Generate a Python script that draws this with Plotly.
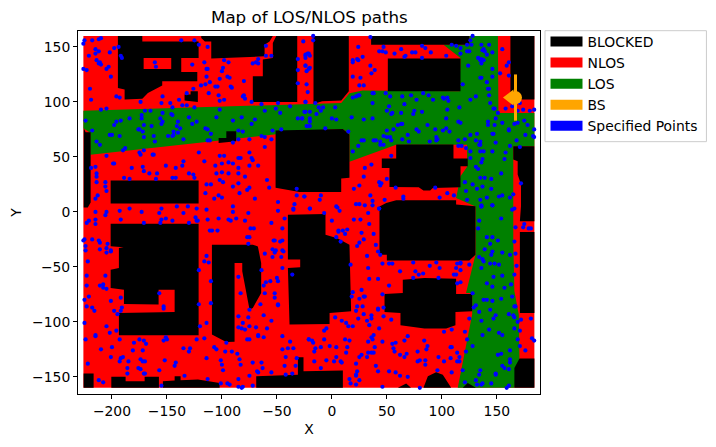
import plotly.graph_objects as go

TITLE = "Map of LOS/NLOS paths"
LEGEND_NAMES = ["BLOCKED", "NLOS", "LOS", "BS", "Specified Points"]
LEGEND_COLORS = ["black", "red", "green", "orange", "blue"]
X_TICKS = [-200, -150, -100, -50, 0, 50, 100, 150]
Y_TICKS = [-150, -100, -50, 0, 50, 100, 150]
BS_XY = (167, 104)

NLOS_AREA = [(-226, -160), (184.2, -160), (184.2, 160), (-226, 160)]

LOS_AREA = [(-226, 92), (8.5, 99), (16, 108), (28, 110.3), (116, 109.7), (117, 140), (101.5, 152), (125, 152),
            (125, 160), (151, 160), (151.5, 90), (184.2, 90), (184.2, 59.7), (165, 59.7), (165, 6.6), (165, -27),
            (166, -72), (170, -93.4), (170.6, -133), (166, -160), (114.5, -160), (127.6, -93.4), (127.6, -73.7),
            (122, -73.7), (130.6, -38.9), (130.6, 5), (113, 12.7), (117, 32.4), (123, 41), (123, 61), (58.5, 61),
            (16, 45.5), (16, 70.3), (10, 75.4), (-20, 74), (-219.7, 52), (-219.7, 72), (-226, 76)]

BLOCKED_AREAS = [
    [(-194.6, 160), (-172.4, 160), (-172.4, 155), (-121.2, 155), (-121.2, 140), (-194.6, 140)],
    [(-194.6, 140), (-171.2, 140), (-171.2, 130), (-194.6, 130)],
    [(-146.1, 140), (-137, 140), (-137, 130), (-146.1, 130)],
    [(-194.6, 130), (-137, 130), (-137, 127.3), (-122.4, 127.3), (-122.4, 118.8), (-154.3, 118.8), (-154.3, 114.9),
     (-167.3, 108.2), (-172.4, 103), (-188.5, 102.1), (-188.5, 111.2), (-194.6, 112.7)],
    [(-128.5, 109.7), (-121.9, 109.7), (-121.9, 100), (-134, 101.2), (-134, 106.7), (-128.5, 106.7)],
    [(-118.8, 160), (-53.7, 160), (-56.7, 155), (-61.2, 152), (-61.2, 141.5), (-109.7, 139.4), (-109.7, 155),
     (-115.5, 155), (-118.8, 158.2)],
    [(-50.6, 160), (-31.5, 160), (-31.5, 100), (-71.9, 100), (-71.9, 123.3), (-62.8, 123.3), (-62.8, 138.5),
     (-53.7, 140), (-53.7, 153.6)],
    [(-16.7, 160), (15.4, 160), (15.4, 109.7), (8.5, 101.2), (-8.8, 100.6), (-16.7, 98.2)],
    [(35.7, 160), (125, 160), (125, 152), (35.7, 152)],
    [(50.9, 139.4), (117, 139.4), (117, 109.7), (50.9, 109.7)],
    [(162.4, 160), (184.2, 160), (184.2, 102.1), (162.4, 102.1)],
    [(-225.7, 76.4), (-224, 72.4), (-219.4, 72.4), (-219.4, 8.5), (-222, 3.9), (-225.7, 3.9)],
    [(-201.2, 28.5), (-121.2, 28.5), (-121.2, 7.6), (-201.2, 7.6)],
    [(-103, 67.3), (-96, 67.3), (-96, 73.3), (-87, 73.3), (-87, 64.3), (-103, 62.7)],
    [(-51.2, 74), (10, 75.4), (16, 70.3), (16, 31), (8.5, 30.3), (8.5, 18), (-29.4, 18), (-51.2, 22)],
    [(58.5, 61.2), (110.6, 61.2), (110.6, 48.5), (123.6, 48.5), (123.6, 41.5), (117, 41.5), (117, 22.4), (91.8, 21.8),
     (89.4, 19.4), (83.3, 19.4), (79, 22.4), (52.4, 22.7), (52.4, 40), (45.4, 40), (45.4, 48.5), (58.5, 48.5)],
    [(58.5, 10.6), (113, 10.6), (113, 6.7), (130.6, 5.2), (130.6, -38.9), (125, -44.3), (50, -44.3), (50, -38.9),
     (43.3, -38.9), (43.3, 5), (49.4, 8.2)],
    [(-201.2, -10.7), (-121.2, -10.7), (-121.2, -112.2), (-193.7, -112.2), (-193.7, -92), (-143, -91), (-143, -70.7),
     (-157.6, -70.7), (-157.6, -84.3), (-189.1, -83.7), (-189.1, -70.7), (-201.2, -69.2), (-201.2, -52.5),
     (-193.7, -51), (-193.7, -32.8), (-189.4, -32.2), (-201.2, -31.3)],
    [(-109.1, -29.8), (-71.9, -29.8), (-67.3, -31.5), (-64.3, -46.4), (-64.3, -73.7), (-71.9, -87.3), (-74.9, -88.8),
     (-81.5, -54), (-81.5, -46.4), (-88.5, -46.4), (-88.5, -118), (-96.1, -118.2), (-109.1, -111.6)],
    [(-40, -2.5), (-5.8, -1.9), (-5.8, -20.7), (5, -24), (16, -29.8), (17.5, -90.4), (-2.1, -92), (-2.1, -102),
     (-38.5, -102.5), (-40, -64.6), (-40, -51), (-28.8, -50.4), (-28.8, -43.4), (-40, -43.4)],
    [(47.9, -74.6), (64.5, -73.7), (64.5, -61.6), (84.2, -60), (113, -60.7), (113, -74.6), (127.6, -74.6),
     (127.6, -90.4), (112.4, -91), (112.4, -103.1), (104, -106.1), (84.2, -106.1), (62.4, -103.1), (62.4, -92),
     (47.9, -91)],
    [(170.6, -133.4), (184.2, -133.4), (184.2, -160), (166, -160), (166, -141.9)],
    [(165, 59.7), (184.2, 59.7), (184.2, -8.6), (171, -8.6), (172, 5.2), (172, 24.8), (169, 34), (169, 46), (165, 47.6)],
    [(171, -18.2), (184.2, -18.2), (184.2, -92), (171, -92)],
    [(-225.8, -147), (-216.7, -147), (-216.7, -160), (-225.8, -160)],
    [(-200.6, -150), (-187.6, -150), (-187.6, -154), (-170.3, -154), (-170.3, -150), (-157.3, -150), (-157.3, -160),
     (-200.6, -160)],
    [(-153.7, -160), (-153.7, -154), (-143, -153.4), (-143, -149.4), (-137.6, -149.4), (-137.6, -153.1),
     (-121.8, -152.5), (-102.1, -155.5), (-102.1, -160)],
    [(-68.8, -160), (-68.8, -149.4), (-30.9, -148), (-30.9, -132.2), (-25.8, -132.2), (-25.8, -144.8), (10, -144.3),
     (10, -160)],
    [(60, -160), (67.6, -156.1), (72, -160)],
    [(83.3, -160), (87.3, -149.4), (94.8, -145.8), (100.9, -148), (108.5, -160)],
    [(119, -160), (123.6, -155.5), (131, -160)],
]

POINTS_NW = [
    (-225,156),(-226,153),(-218,156),(-212,157),(-210,158),(-215,148),(-212,146),(-221,142),(-215,144),(-214,138),
    (-211,136),(-210,134),(-212,135),(-226,130),(-223,129),(-205,130),(-203,132),(-201,123),(-198,149),(-194,150),
    (-192,142),(-191,140),(-202,145),(-137,156),(-125,156),(-121,152),(-113,150),(-161,136),(-160,132),(-127,134),
    (-116,136),(-98,138),(-94,136),(-99,131),(-100,128),(-114,130),(-113,130),(-114,123),(-111,118),(-115,116),
    (-119,115),(-102,121),(-95,123),(-93,122),(-106,114),(-104,114),(-80,119),(-92,114),(-91,113),(-126,112),
    (-132,108),(-154,105),(-196,105),(-193,104),(-220,112),(-219,102),(-174,100),(-155,99),(-147,99),(-139,102),
    (-112,108),(-103,106),(-98,102),(-102,101),(-80,106),(-81,105),(-79,103),(-73,100),(-64,98),(-49,99),
    (-38,96),(-24,100),(-31,117),(-31,129),(-24,133),(-20,131),(-60,151),(-60,142),(-55,142),(-72,135),
    (-67,139),(-69,136),(-67,135),(-31,139),(-24,143),(-22,144),(-210,93),(-205,94),(-136,97),(-132,97),
    (-125,95),(-145,95),(-170,92),(-165,92),(-173,88),(-173,85),(-154,90),(-146,89),(-145,88),(-156,85),
    (-154,82),(-130,86),(-102,93),(-105,86),(-82,86),(-90,83),(-123,82),(-127,80),(-73,80),(-70,84),
    (-61,92),(-51,94),(-47,90),(-31,85),(-27,85),(-20,91),(-24,91),(-22,78),(-46,75),(-54,74),
    (-196,82),(-192,83),(-198,79),(-184,85),(-224,83),(-218,74),(-171,79),(-164,78),(-155,80),(-140,82),
    (-141,78),(-138,76),(-144,73),(-140,72),(-144,70),(-175,75),(-176,75),(-172,73),(-171,68),(-162,69),
    (-149,69),(-145,69),(-202,70),(-200,70),(-193,69),(-214,64),(-211,61),(-161,64),(-135,66),(-115,76),
    (-113,75),(-85,74),(-81,73),(-110,71),(-111,65),(-113,65),(-90,63),(-85,66),(-75,66),(-64,69),
    (-61,68),(-55,66),(-61,59),(-75,54),(-73,49),(-72,47),(-85,49),(-83,49),(-67,42),(-75,42),
    (-85,40),(-94,45),(-90,44),(-100,44),(-102,51),(-98,51),(-121,54),(-116,46),(-135,46),(-136,42),
    (-142,40),(-151,42),(-163,52),(-162,52),(-171,56),(-175,54),(-174,52),(-188,58),(-190,56),(-205,51),
    (-198,44),(-199,44),(-215,41),(-219,40),(-182,40),(-172,41),(-171,37),(-166,35),(-159,35),(-130,35),
    (-126,34),(-125,31),(-106,42),(-105,35),(-100,36),(-94,35),(-85,35),(-79,32),(-85,26),(-102,29),
    (-99,27),(-114,25),(-110,25),(-90,23),(-75,22),(-77,20),(-84,17),(-70,12),(-59,29),(-57,22),
    (-32,21),(-25,14),(-32,15),(-34,7),(-49,9),(-90,5),(-100,13),(-103,15),(-107,12),(-115,17),
    (-189,31),(-184,30),(-160,30),(-145,31),(-142,31),(-214,32),(-214,27),(-206,27),(-206,23),(-205,19),
    (-213,15),(-215,12),(-141,5),(-131,5),(-184,3),(-155,3),(-123,3),(-35,3),(-214,35),
]

POINTS_NE = [
    (-26,155),(-17,160),(-17,156),(-21,144),(-20,142),(-24,142),(-24,140),(-24,133),(-21,130),(-23,128),
    (-23,116),(-22,109),(-24,100),(-15,99),(-12,95),(-8,95),(-10,92),(-25,91),(3,95),(-14,89),
    (0,85),(4,84),(-27,85),(-20,85),(-20,82),(-23,78),(-20,78),(-6,76),(18,86),(15,73),
    (29,84),(37,85),(37,99),(52,96),(66,98),(77,102),(64,105),(72,106),(83,108),(88,106),
    (92,102),(101,104),(102,103),(105,104),(106,101),(116,95),(105,93),(104,85),(115,82),(117,81),
    (50,92),(55,90),(54,89),(63,90),(74,89),(75,92),(82,91),(50,74),(56,75),(60,79),
    (63,80),(64,80),(87,79),(77,75),(79,73),(94,75),(101,74),(104,76),(107,73),(47,69),
    (50,68),(53,68),(69,70),(64,66),(70,64),(54,65),(40,65),(38,65),(44,64),(44,61),
    (47,61),(27,65),(29,65),(24,60),(19,55),(54,51),(89,64),(95,68),(96,66),(95,65),
    (115,65),(121,66),(115,60),(118,60),(122,58),(126,70),(132,71),(131,65),(135,64),(135,61),
    (134,61),(126,55),(126,49),(135,55),(138,55),(146,55),(149,63),(146,71),(147,71),(162,60),
    (168,65),(171,59),(176,70),(183,69),(184,68),(184,75),(178,79),(175,83),(169,81),(166,80),
    (161,75),(161,74),(155,81),(148,79),(142,82),(142,79),(149,85),(151,90),(147,94),(148,94),
    (164,96),(158,94),(169,92),(174,93),(180,92),(184,93),(171,99),(144,99),(131,105),(126,102),
    (143,106),(142,112),(143,112),(141,118),(119,116),(146,123),(136,122),(135,122),(153,126),(161,124),
    (159,133),(161,136),(146,130),(124,133),(136,139),(135,138),(133,140),(136,135),(138,138),(141,143),
    (146,145),(155,148),(143,152),(136,152),(137,147),(138,148),(139,146),(127,152),(123,152),(123,146),
    (125,146),(117,149),(117,144),(113,151),(109,152),(104,142),(126,156),(128,160),(90,145),(85,149),
    (82,151),(82,140),(76,145),(73,145),(63,148),(67,142),(66,141),(57,144),(49,145),(46,146),
    (43,146),(47,150),(24,150),(28,141),(19,138),(19,136),(24,138),(23,139),(35,133),(39,129),
    (36,126),(19,123),(26,122),(29,115),(25,115),(19,104),(22,105),(24,106),(25,106),(37,108),
    (38,108),(49,108),(53,105),(35,159),
    (158,54),(157,48),(154,35),(137,48),(136,45),(131,41),(133,39),(135,31),(139,31),(145,30),
    (121,27),(128,25),(132,21),(137,23),(145,21),(122,19),(123,11),(135,11),(141,13),(152,14),
    (155,15),(162,13),(165,16),(172,26),(136,6),(136,5),(146,6),(166,3),(111,15),(105,17),
    (98,13),(94,22),(58,22),(50,30),(43,27),(45,26),(44,24),(29,32),(36,43),(30,40),
    (25,24),(20,21),(35,15),(37,10),(37,6),(30,6),(25,7),(22,7),(48,11),(65,14),
    (65,12),(-10,15),(-11,11),(-25,14),(4,5),(5,4),(-20,3),(43,3),
]

POINTS_SW = [
    (-215,0),(-205,0),(-206,-3),(-193,1),(-173,0),(-157,-1),(-135,-1),(-114,2),(-90,0),(-76,-1),
    (-49,1),(-35,2),(-124,-5),(-151,-6),(-155,-7),(-156,-10),(-145,-8),(-130,-10),(-123,-8),(-122,-8),
    (-113,-7),(-103,-6),(-94,-7),(-92,-8),(-87,-6),(-79,-8),(-55,-10),(-43,-6),(-192,-7),(-171,-10),
    (-221,-8),(-223,-10),(-215,-7),(-215,-11),(-45,-15),(-74,-15),(-71,-15),(-104,-17),(-111,-17),(-109,-17),
    (-77,-23),(-75,-23),(-225,-25),(-226,-26),(-218,-25),(-212,-26),(-211,-28),(-204,-29),(-224,-31),(-224,-35),
    (-211,-34),(-205,-33),(-205,-37),(-201,-35),(-201,-36),(-76,-29),(-53,-26),(-52,-26),(-45,-26),(-47,-27),
    (-54,-34),(-52,-37),(-51,-35),(-45,-35),(-44,-36),(-61,-38),(-54,-41),(-46,-41),(-114,-40),(-116,-45),
    (-112,-46),(-222,-45),(-121,-53),(-64,-53),(-45,-51),(-36,-57),(-223,-58),(-206,-58),(-85,-59),(-50,-60),
    (-49,-63),(-56,-63),(-60,-64),(-110,-63),(-223,-67),(-211,-67),(-208,-66),(-208,-69),(-205,-70),(-62,-67),
    (-157,-74),(-83,-74),(-61,-74),(-52,-74),(-52,-78),(-221,-77),(-225,-80),(-201,-81),(-192,-78),(-121,-84),
    (-110,-83),(-65,-84),(-49,-84),(-49,-85),(-223,-86),(-218,-87),(-216,-90),(-198,-90),(-191,-87),(-192,-90),
    (-195,-93),(-153,-86),(-153,-88),(-75,-89),(-85,-95),(-76,-96),(-62,-94),(-55,-99),(-81,-101),(-225,-101),
    (-114,-101),(-120,-104),(-85,-105),(-82,-106),(-79,-107),(-75,-104),(-69,-105),(-59,-106),(-205,-104),(-202,-110),
    (-196,-108),(-215,-112),(-215,-113),(-224,-116),(-193,-116),(-180,-119),(-175,-116),(-171,-117),(-169,-120),(-153,-117),
    (-151,-114),(-150,-116),(-123,-116),(-116,-115),(-96,-119),(-77,-116),(-75,-116),(-67,-112),(-67,-113),(-62,-114),
    (-45,-113),(-38,-118),(-45,-125),(-40,-124),(-35,-124),(-21,-116),(-210,-125),(-200,-123),(-181,-126),(-172,-126),
    (-135,-124),(-129,-124),(-130,-127),(-107,-123),(-105,-125),(-97,-127),(-91,-127),(-86,-129),(-84,-134),(-201,-132),
    (-190,-132),(-192,-133),(-193,-136),(-185,-136),(-174,-134),(-170,-136),(-172,-136),(-152,-135),(-142,-137),(-143,-140),
    (-114,-133),(-101,-135),(-100,-139),(-99,-144),(-83,-139),(-72,-137),(-64,-137),(-63,-142),(-42,-132),(-32,-133),
    (-33,-140),(-43,-140),(-222,-138),(-186,-142),(-176,-142),(-174,-143),(-157,-144),(-186,-147),(-171,-147),(-170,-147),
    (-134,-149),(-113,-152),(-85,-152),(-75,-149),(-68,-145),(-67,-146),(-55,-146),(-42,-148),(-36,-147),(-212,-153),
    (-208,-155),(-155,-158),(-101,-156),(-95,-156),(-93,-157),(-85,-159),(-81,-159),(-82,-160),(-72,-158),
]

POINTS_SE = [
    (-20,3),(-7,-1),(0,-8),(7,1),(20,-7),(26,-7),(33,-1),(34,-11),(43,3),(6,-17),
    (6,-18),(10,-17),(14,-16),(12,-20),(4,-23),(8,-27),(27,-19),(29,-25),(38,-20),(40,-30),
    (25,-28),(23,-31),(42,-36),(44,-39),(32,-40),(17,-48),(33,-51),(46,-47),(52,-47),(55,-47),
    (74,-46),(95,-46),(89,-49),(98,-51),(62,-54),(34,-61),(42,-61),(74,-60),(79,-57),(83,-56),
    (76,-54),(97,-60),(111,-57),(113,-57),(113,-51),(117,-53),(114,-47),(117,-46),(117,-47),(125,-48),
    (52,-67),(27,-71),(19,-73),(18,-77),(25,-79),(29,-77),(30,-77),(46,-75),(114,-65),(117,-64),
    (23,-86),(28,-86),(47,-87),(42,-88),(42,-89),(22,-90),(29,-93),(36,-94),(36,-97),(47,-95),
    (3,-96),(9,-99),(13,-101),(15,-104),(19,-104),(24,-97),(32,-99),(34,-103),(54,-98),(43,-106),
    (-5,-106),(-7,-108),(-7,-116),(-21,-116),(-18,-117),(-17,-119),(-15,-124),(-16,-127),(-10,-123),(-2,-122),
    (4,-123),(14,-123),(13,-128),(12,-116),(16,-117),(38,-112),(36,-114),(37,-116),(33,-118),(46,-118),
    (39,-123),(33,-128),(36,-128),(38,-128),(27,-130),(25,-132),(32,-132),(-16,-136),(-5,-135),(4,-132),
    (2,-136),(8,-136),(9,-137),(22,-138),(40,-140),(42,-145),(-10,-142),(23,-145),(22,-148),(22,-149),
    (16,-152),(17,-156),(25,-153),(22,-157),(52,-145),(58,-146),(62,-149),(69,-150),(46,-159),(80,-160),
    (96,-144),(109,-146),(66,-117),(69,-113),(55,-120),(58,-119),(56,-124),(57,-127),(62,-130),(66,-132),
    (68,-129),(78,-127),(84,-117),(87,-122),(86,-125),(78,-136),(80,-135),(85,-135),(85,-139),(97,-132),
    (102,-136),(108,-133),(108,-123),(109,-123),(114,-128),(116,-132),(114,-136),(116,-136),(102,-109),(109,-107),
    (121,-109),(123,-116),(122,-127),(119,-144),(128,-122),(125,-97),(128,-74),
    (136,5),(146,6),(164,2),(154,-6),(134,-8),(133,-15),(141,-23),(146,-23),(151,-26),(144,-29),
    (139,-34),(146,-36),(155,-37),(145,-39),(134,-41),(137,-43),(138,-45),(144,-47),(148,-47),(152,-48),
    (136,-51),(162,-39),(167,-38),(168,-49),(166,-57),(155,-58),(147,-59),(141,-65),(146,-68),(163,-66),
    (157,-69),(164,-77),(138,-80),(141,-80),(146,-81),(154,-79),(131,-85),(129,-87),(166,-86),(167,-86),
    (144,-89),(134,-91),(149,-94),(147,-97),(136,-99),(161,-93),(165,-94),(166,-96),(169,-100),(172,-98),
    (143,-107),(166,-106),(171,-108),(152,-110),(155,-112),(137,-112),(169,-116),(162,-126),(154,-129),(151,-130),
    (162,-134),(162,-137),(155,-140),(157,-142),(161,-143),(135,-144),(134,-148),(149,-147),(149,-148),(131,-153),
    (121,-155),(145,-156),(137,-156),(136,-157),(132,-157),(161,-158),(159,-160),(182,-115),(184,-117),(176,-126),
    (181,-97),(167,-14),(175,-11),(174,-14),(179,-15),(181,-15),(166,-27),(171,-122),
]

fig = go.Figure()


def polygon_xy(poly_list):
    xs, ys = [], []
    for poly in poly_list:
        xs += [p[0] for p in poly] + [poly[0][0], None]
        ys += [p[1] for p in poly] + [poly[0][1], None]
    return xs, ys


def area(poly_list, color):
    xs, ys = polygon_xy(poly_list)
    fig.add_trace(go.Scatter(x=xs, y=ys, mode="lines", fill="toself", fillcolor=color,
                             line=dict(width=0, color=color), hoverinfo="skip", showlegend=False))


area([NLOS_AREA], "red")
area([LOS_AREA], "green")
area(BLOCKED_AREAS, "black")

all_points = POINTS_NW + POINTS_NE + POINTS_SW + POINTS_SE
fig.add_trace(go.Scatter(x=[p[0] for p in all_points], y=[p[1] for p in all_points], mode="markers",
                         marker=dict(color="blue", size=4.2, line=dict(width=0)), showlegend=False))

fig.add_trace(go.Scatter(x=[BS_XY[0]], y=[BS_XY[1]], mode="markers", showlegend=False,
                         marker=dict(symbol="line-ns", size=33, line=dict(width=3, color="orange"), color="orange")))
fig.add_trace(go.Scatter(x=[BS_XY[0]], y=[BS_XY[1]], mode="markers", showlegend=False,
                         marker=dict(symbol="circle", size=13, color="orange", line=dict(width=0))))
fig.add_trace(go.Scatter(x=[BS_XY[0] - 5], y=[BS_XY[1]], mode="markers", showlegend=False,
                         marker=dict(symbol="triangle-left", size=14, color="orange", line=dict(width=0))))

for name, color in zip(LEGEND_NAMES, LEGEND_COLORS):
    fig.add_trace(go.Scatter(x=[None], y=[None], mode="lines", name=name, line=dict(color=color, width=10)))

axis_common = dict(showgrid=False, zeroline=False, showline=True, mirror=True, linecolor="black", linewidth=1,
                   ticks="outside", ticklen=4, tickwidth=1, tickcolor="black", tickfont=dict(size=13.9, color="black"))

fig.update_layout(
    width=716, height=447, paper_bgcolor="white", plot_bgcolor="white",
    margin=dict(l=78.3, r=175.5, t=31.3, b=52.6, autoexpand=False),
    font=dict(family="DejaVu Sans", size=13.9, color="black"),
    title=dict(text=TITLE, x=309.4 / 716, xanchor="center", y=1 - 17 / 447, yanchor="middle", font=dict(size=16.7)),
    xaxis=dict(range=[-230.9, 189.3], tickvals=X_TICKS, title=dict(text="X", standoff=6, font=dict(size=13.9)),
               **axis_common),
    yaxis=dict(range=[-165.6, 164.5], tickvals=Y_TICKS, title=dict(text="Y", standoff=7, font=dict(size=13.9)),
               **axis_common),
    legend=dict(x=545.5 / 716, xref="container", y=1 - 26 / 447, yref="container", xanchor="left", yanchor="top",
                bgcolor="rgba(0,0,0,0)", borderwidth=0, itemwidth=32, font=dict(size=13.9), itemclick=False),
    shapes=[dict(type="rect", xref="paper", yref="paper", layer="above", line=dict(color="#cccccc", width=1),
                 fillcolor="rgba(0,0,0,0)", x0=(545.5 - 78.3) / 462.2, x1=(707 - 78.3) / 462.2,
                 y0=(394.4 - 142) / 363.1, y1=(394.4 - 31) / 363.1)],
)

fig.write_html("out.html", config={"displayModeBar": False},
               post_script="document.body.style.margin='0';window.dispatchEvent(new Event('resize'));")
